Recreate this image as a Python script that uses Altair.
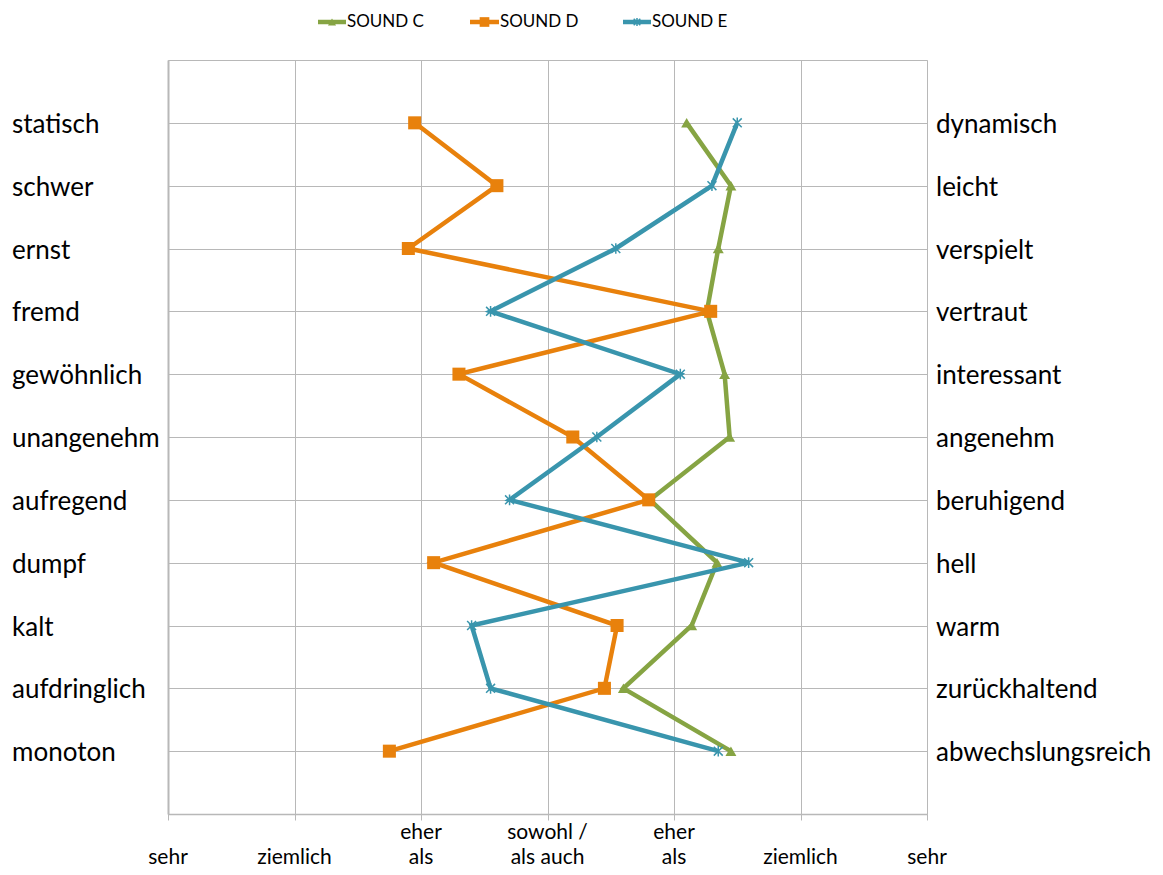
import altair as alt
import pandas as pd

left_words = ["statisch", "schwer", "ernst", "fremd", "gewöhnlich", "unangenehm",
              "aufregend", "dumpf", "kalt", "aufdringlich", "monoton"]
right_words = ["dynamisch", "leicht", "verspielt", "vertraut", "interessant", "angenehm",
               "beruhigend", "hell", "warm", "zurückhaltend", "abwechslungsreich"]
row_pos = [11, 10, 9, 8, 7, 6, 5, 4, 3, 2, 1]

sound_c = [4.10, 4.45, 4.35, 4.26, 4.40, 4.44, 3.81, 4.34, 4.14, 3.60, 4.45]
sound_d = [1.95, 2.60, 1.90, 4.29, 2.30, 3.20, 3.80, 2.10, 3.55, 3.45, 1.75]
sound_e = [4.50, 4.30, 3.54, 2.55, 4.05, 3.39, 2.70, 4.59, 2.40, 2.55, 4.35]

series_names = ["SOUND C", "SOUND D", "SOUND E"]
series_colors = ["#86A443", "#E8810C", "#3995AD"]

scale_pos = [0, 1, 2, 3, 4, 5, 6]
scale_line1 = ["", "", "eher", "sowohl /", "eher", "", ""]
scale_line2 = ["sehr", "ziemlich", "als", "als auch", "als", "ziemlich", "sehr"]

FONT = "Lato"
W, H = 759, 754
TOP = 52

rows = []
for name, vals in zip(series_names, [sound_c, sound_d, sound_e]):
    for i, (p, v) in enumerate(zip(row_pos, vals)):
        rows.append({"series": name, "idx": i, "pos": p, "val": v})
df = pd.DataFrame(rows)

words = pd.DataFrame({"left": left_words, "right": right_words, "pos": row_pos})
scale_df = pd.DataFrame({"x": scale_pos, "l1": scale_line1, "l2": scale_line2})

xs = alt.Scale(domain=[0, 6], nice=False, zero=False)
ys = alt.Scale(domain=[0, 12], nice=False, zero=False)

x_axis = alt.Axis(values=scale_pos, labels=False, title=None, grid=True, gridColor="#b8b8b8",
                  gridWidth=1, tickColor="#b8b8b8", tickSize=6, domainColor="#b8b8b8",
                  domainWidth=1.5)
y_axis = alt.Axis(values=list(range(13)), labels=False, title=None, ticks=False, grid=True,
                  gridColor="#b8b8b8", gridWidth=1, domainColor="#b8b8b8", domainWidth=2)

base = alt.Chart(df)

grid = alt.Chart(words).mark_point(opacity=0).encode(
    x=alt.X("pos:Q", scale=xs, axis=x_axis),
    y=alt.Y("pos:Q", scale=ys, axis=y_axis),
)

shapes = {
    "SOUND C": dict(shape="triangle-up", size=120, filled=True),
    "SOUND D": dict(shape="square", size=170, filled=True),
    "SOUND E": dict(shape="M-1,-1L1,1M-1,1L1,-1M0,-1.2L0,1.2", size=80, filled=False, strokeWidth=1.5),
}

layers = [grid]
for name, color in zip(series_names, series_colors):
    sub = base.transform_filter(alt.datum.series == name)
    layers.append(sub.mark_line(color=color, strokeWidth=4.5).encode(
        x=alt.X("val:Q", scale=xs, axis=x_axis),
        y=alt.Y("pos:Q", scale=ys, axis=y_axis),
        order=alt.Order("idx:Q"),
    ))
    layers.append(sub.mark_point(color=color, opacity=1, **shapes[name]).encode(
        x=alt.X("val:Q", scale=xs),
        y=alt.Y("pos:Q", scale=ys),
    ))

left_txt = alt.Chart(words).mark_text(align="left", baseline="middle", font=FONT,
                                      fontSize=26, color="#000000", dy=2).encode(
    x=alt.value(-156), y=alt.Y("pos:Q", scale=ys), text="left:N")
right_txt = alt.Chart(words).mark_text(align="left", baseline="middle", font=FONT,
                                       fontSize=26, color="#000000", dy=2).encode(
    x=alt.value(768), y=alt.Y("pos:Q", scale=ys), text="right:N")

bot1 = alt.Chart(scale_df).mark_text(align="center", baseline="alphabetic", font=FONT,
                                     fontSize=21, color="#000000").encode(
    x=alt.X("x:Q", scale=xs), y=alt.value(839 - 8 - TOP), text="l1:N")
bot2 = alt.Chart(scale_df).mark_text(align="center", baseline="alphabetic", font=FONT,
                                     fontSize=21, color="#000000").encode(
    x=alt.X("x:Q", scale=xs), y=alt.value(864 - 8 - TOP), text="l2:N")

leg_df = pd.DataFrame({"series": series_names,
                       "x0": [150, 302, 455], "x1": [178, 331, 483]})
legend_layers = []
LY = 22 - 8 - TOP
for name, color in zip(series_names, series_colors):
    ld = leg_df[leg_df.series == name]
    x0 = int(ld.x0.iloc[0]); x1 = int(ld.x1.iloc[0])
    legend_layers.append(alt.Chart(ld).mark_rule(color=color, strokeWidth=4.5).encode(
        x=alt.value(x0), x2=alt.value(x1), y=alt.value(LY)))
    sh = dict(shapes[name])
    sh["size"] = sh["size"] * 0.55
    legend_layers.append(alt.Chart(ld).mark_point(color=color, opacity=1, **sh).encode(
        x=alt.value((x0 + x1) / 2), y=alt.value(LY)))
    legend_layers.append(alt.Chart(ld).mark_text(align="left", baseline="middle",
                                                 font=FONT, fontSize=17,
                                                 color="#000000").encode(
        x=alt.value(x1 + 1), y=alt.value(LY), text="series:N"))

chart = alt.layer(*layers, left_txt, right_txt, bot1, bot2, *legend_layers).properties(
    width=W, height=H,
    autosize=alt.AutoSizeParams(type="none"),
    padding={"left": 160, "top": TOP, "right": 228, "bottom": 859 - TOP - H},
).configure_view(stroke=None).configure(background="white")

chart.save("out.html", embed_options={"renderer": "svg", "actions": False})
